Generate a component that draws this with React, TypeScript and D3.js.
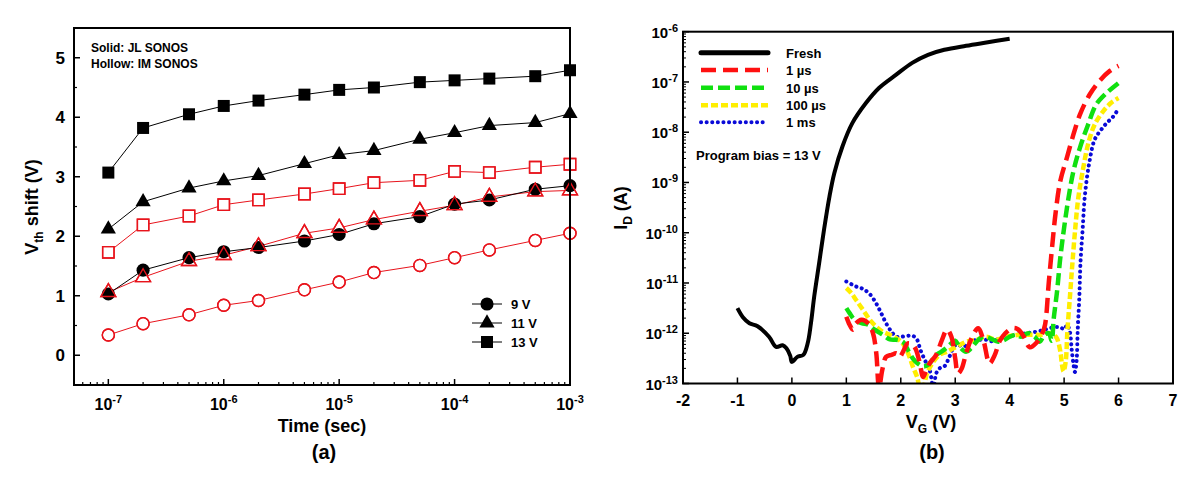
import React from 'react';
import * as d3 from 'd3';

// ---------- Panel (a) data ----------
const times = [1e-7, 2e-7, 5e-7, 1e-6, 2e-6, 5e-6, 1e-5, 2e-5, 5e-5, 1e-4, 2e-4, 5e-4, 1e-3];
const jl9V = [1.03, 1.43, 1.64, 1.74, 1.81, 1.92, 2.03, 2.21, 2.33, 2.54, 2.61, 2.79, 2.85];
const jl11V = [2.12, 2.58, 2.81, 2.93, 3.02, 3.22, 3.37, 3.44, 3.63, 3.74, 3.86, 3.91, 4.06];
const jl13V = [3.07, 3.82, 4.05, 4.19, 4.28, 4.38, 4.46, 4.5, 4.59, 4.62, 4.65, 4.69, 4.79];
const im9V = [0.34, 0.53, 0.68, 0.84, 0.92, 1.1, 1.23, 1.39, 1.51, 1.64, 1.77, 1.93, 2.05];
const im11V = [1.06, 1.31, 1.58, 1.68, 1.83, 2.05, 2.14, 2.28, 2.42, 2.52, 2.66, 2.75, 2.77];
const im13V = [1.73, 2.19, 2.34, 2.53, 2.61, 2.71, 2.8, 2.9, 2.94, 3.09, 3.07, 3.16, 3.21];
const yTicksA = [0, 1, 2, 3, 4, 5];
const xDecadesA = [-7, -6, -5, -4, -3];
const legendA = ['9 V', '11 V', '13 V'];

// ---------- Panel (b) data: [VG (V), log10 ID (A)] ----------
const fresh: [number, number][] = [
  [-1.0, -11.5], [-0.9, -11.68], [-0.78, -11.8], [-0.63, -11.86], [-0.42, -12.07], [-0.29, -12.27],
  [-0.17, -12.24], [-0.1, -12.3], [-0.03, -12.45], [0.0, -12.57], [0.1, -12.47], [0.21, -12.43],
  [0.29, -12.2], [0.35, -11.8], [0.41, -11.27], [0.5, -10.61], [0.59, -9.94], [0.69, -9.28],
  [0.78, -8.81], [0.93, -8.28], [1.11, -7.82], [1.36, -7.42], [1.6, -7.12], [1.91, -6.86],
  [2.21, -6.62], [2.5, -6.46], [2.8, -6.36], [3.2, -6.28], [3.6, -6.21], [4.0, -6.14],
];
const pulse1us: [number, number][] = [
  [1.0, -11.67], [1.06, -11.83], [1.12, -11.93], [1.18, -11.8], [1.28, -11.73], [1.4, -11.8],
  [1.49, -12.0], [1.55, -12.4], [1.6, -13.1], [1.66, -12.73], [1.73, -12.47], [1.83, -12.43],
  [1.92, -12.4], [1.98, -12.47], [2.04, -12.37], [2.13, -12.2], [2.22, -12.23], [2.28, -12.33],
  [2.35, -12.6], [2.41, -12.87], [2.47, -12.73], [2.53, -12.6], [2.65, -12.43], [2.75, -12.15],
  [2.85, -11.93], [2.93, -12.07], [3.0, -12.5], [3.05, -12.8], [3.12, -12.7], [3.2, -12.4],
  [3.3, -12.1], [3.42, -11.9], [3.52, -12.15], [3.63, -12.6], [3.72, -12.45], [3.82, -12.15],
  [3.92, -12.0], [4.05, -11.9], [4.15, -11.92], [4.25, -12.05], [4.37, -12.28], [4.5, -12.18],
  [4.6, -12.0], [4.65, -11.83], [4.72, -10.97], [4.78, -10.28], [4.84, -9.64], [4.93, -8.97],
  [5.05, -8.51], [5.17, -8.05], [5.29, -7.65], [5.47, -7.25], [5.65, -6.98], [5.84, -6.78], [6.0, -6.68],
];
const pulse10us: [number, number][] = [
  [1.0, -11.5], [1.06, -11.6], [1.15, -11.73], [1.28, -11.8], [1.4, -11.83], [1.52, -11.93],
  [1.67, -12.03], [1.8, -12.12], [1.92, -12.13], [2.04, -12.17], [2.13, -12.33], [2.22, -12.5],
  [2.31, -12.6], [2.41, -12.66], [2.5, -12.63], [2.56, -12.56], [2.65, -12.43], [2.74, -12.37],
  [2.83, -12.3], [2.93, -12.2], [3.0, -12.15], [3.08, -12.27], [3.2, -12.37], [3.29, -12.3],
  [3.39, -12.17], [3.51, -12.07], [3.63, -12.1], [3.79, -12.17], [3.91, -12.13], [4.0, -12.07],
  [4.12, -12.03], [4.21, -12.07], [4.34, -12.0], [4.46, -12.07], [4.55, -12.17], [4.64, -12.03],
  [4.72, -12.0], [4.77, -12.15], [4.81, -11.7], [4.87, -11.17], [4.93, -10.5], [5.0, -9.9],
  [5.08, -9.31], [5.17, -8.78], [5.29, -8.31], [5.44, -7.85], [5.59, -7.45], [5.78, -7.22], [6.0, -7.02],
];
const pulse100us: [number, number][] = [
  [1.0, -11.1], [1.09, -11.2], [1.18, -11.34], [1.31, -11.54], [1.43, -11.73], [1.55, -11.87],
  [1.67, -11.97], [1.8, -12.03], [1.92, -12.1], [2.01, -12.17], [2.09, -12.3], [2.16, -12.47],
  [2.22, -12.66], [2.3, -12.87], [2.36, -13.1], [2.42, -13.05], [2.48, -12.8], [2.56, -12.63],
  [2.71, -12.43], [2.84, -12.37], [3.02, -12.27], [3.2, -12.17], [3.39, -12.13], [3.57, -12.07],
  [3.75, -12.13], [3.94, -12.07], [4.18, -12.03], [4.43, -12.03], [4.61, -12.03], [4.73, -12.0],
  [4.85, -12.07], [4.93, -12.36], [4.96, -12.62], [4.99, -12.76], [5.03, -12.56], [5.06, -11.96],
  [5.11, -11.23], [5.15, -10.64], [5.2, -9.97], [5.26, -9.31], [5.34, -8.78], [5.44, -8.24],
  [5.56, -7.85], [5.72, -7.58], [5.87, -7.41], [6.0, -7.32],
];
const pulse1ms: [number, number][] = [
  [1.0, -10.97], [1.18, -11.07], [1.31, -11.12], [1.43, -11.22], [1.55, -11.41], [1.64, -11.6],
  [1.73, -11.8], [1.83, -11.97], [1.92, -12.07], [2.01, -12.07], [2.13, -12.05], [2.22, -12.05],
  [2.3, -12.13], [2.36, -12.33], [2.44, -12.53], [2.53, -12.73], [2.6, -13.1], [2.65, -12.8],
  [2.71, -12.7], [2.8, -12.66], [2.9, -12.45], [2.97, -12.28], [3.02, -12.23], [3.17, -12.26],
  [3.29, -12.16], [3.45, -12.13], [3.57, -12.13], [3.69, -12.16], [3.82, -12.1], [3.97, -12.07],
  [4.12, -12.03], [4.31, -12.0], [4.49, -11.97], [4.67, -11.92], [4.8, -11.88], [4.92, -11.88],
  [5.01, -11.92], [5.05, -11.83], [5.1, -11.94], [5.14, -12.33], [5.17, -12.6], [5.2, -12.77],
  [5.23, -12.53], [5.25, -11.94], [5.28, -11.27], [5.3, -10.61], [5.34, -9.94], [5.38, -9.28],
  [5.46, -8.62], [5.56, -8.15], [5.68, -7.95], [5.78, -7.82], [5.9, -7.69], [5.99, -7.55],
];
const xTicksB = [-2, -1, 0, 1, 2, 3, 4, 5, 6, 7];
const yDecadesB = [-13, -12, -11, -10, -9, -8, -7, -6];
const legendB = ['Fresh', '1 \u00b5s', '10 \u00b5s', '100 \u00b5s', '1 ms'];

const FONT = "'Liberation Sans', Arial, Helvetica, sans-serif";

function PanelA() {
  const x = d3.scaleLog().domain([5.04e-8, 1e-3]).range([74, 570]);
  const y = d3.scaleLinear().domain([-0.5, 5.5]).range([385, 28]);
  const [x0, x1] = x.range();
  const [yb, yt] = y.range();
  const line = d3.line<number>().x((_, i) => x(times[i])).y((d) => y(d));
  const minorX: number[] = [];
  for (let d = -8; d <= -4; d++) for (let k = 2; k <= 9; k++) {
    const v = k * Math.pow(10, d);
    if (v > x.domain()[0] && v < x.domain()[1]) minorX.push(v);
  }
  const minorY = d3.range(-0.5, 5.51, 0.5).filter((v) => Math.abs(v - Math.round(v)) > 0.1);
  const sq = d3.symbol(d3.symbolSquare, 144)()!;
  const tri = d3.symbol(d3.symbolTriangle, 100)()!;
  const cir = d3.symbol(d3.symbolCircle, 135)()!;
  const hsq = d3.symbol(d3.symbolSquare, 130)()!;
  const htri = d3.symbol(d3.symbolTriangle, 95)()!;
  const hcir = d3.symbol(d3.symbolCircle, 115)()!;
  const red = '#e8141c';
  const solid = [
    { v: jl9V, p: cir },
    { v: jl11V, p: tri },
    { v: jl13V, p: sq },
  ];
  const hollow = [
    { v: im9V, p: hcir },
    { v: im11V, p: htri },
    { v: im13V, p: hsq },
  ];
  const legendY = [304, 323, 342];
  const legendSym = [cir, tri, sq];
  return (
    <g fontFamily={FONT} fontWeight="bold">
      {hollow.map((s, i) => (
        <path key={'hl' + i} d={line(s.v)!} fill="none" stroke={red} strokeWidth={1} />
      ))}
      {solid.map((s, i) => (
        <path key={'sl' + i} d={line(s.v)!} fill="none" stroke="#000" strokeWidth={1} />
      ))}
      {hollow.map((s, i) =>
        s.v.map((v, j) => (
          <path key={'hw' + i + '-' + j} d={s.p} transform={`translate(${x(times[j])},${y(v)})`} fill="#fff" stroke={red} strokeWidth={1.4} />
        ))
      )}
      {solid.map((s, i) =>
        s.v.map((v, j) => (
          <path key={'sm' + i + '-' + j} d={s.p} transform={`translate(${x(times[j])},${y(v)})`} fill="#000" />
        ))
      )}
      {hollow.map((s, i) =>
        s.v.map((v, j) => (
          <path key={'ho' + i + '-' + j} d={s.p} transform={`translate(${x(times[j])},${y(v)})`} fill="none" stroke={red} strokeWidth={1.4} />
        ))
      )}
      <rect x={x0} y={yt} width={x1 - x0} height={yb - yt} fill="none" stroke="#000" strokeWidth={2} />
      {yTicksA.map((t) => (
        <g key={'yt' + t}>
          <line x1={x0} x2={x0 + 6} y1={y(t)} y2={y(t)} stroke="#000" strokeWidth={1.5} />
          <text x={x0 - 9} y={y(t) + 6} textAnchor="end" fontSize={17}>{t}</text>
        </g>
      ))}
      {minorY.map((t) => (
        <line key={'ym' + t} x1={x0} x2={x0 + 3} y1={y(t)} y2={y(t)} stroke="#000" strokeWidth={1.2} />
      ))}
      {xDecadesA.map((d) => (
        <g key={'xt' + d}>
          <line x1={x(Math.pow(10, d))} x2={x(Math.pow(10, d))} y1={yb} y2={yb - 6} stroke="#000" strokeWidth={1.5} />
          <text x={x(Math.pow(10, d))} y={410} textAnchor="middle" fontSize={16}>
            10<tspan dy={-7} fontSize={11}>{d}</tspan>
          </text>
        </g>
      ))}
      {minorX.map((v, i) => (
        <line key={'xm' + i} x1={x(v)} x2={x(v)} y1={yb} y2={yb - 3} stroke="#000" strokeWidth={1.2} />
      ))}
      <text x={322} y={432} textAnchor="middle" fontSize={18}>Time (sec)</text>
      <text x={324} y={459} textAnchor="middle" fontSize={20}>(a)</text>
      <text transform="translate(38,207) rotate(-90)" textAnchor="middle" fontSize={18}>
        V<tspan dy={5} fontSize={12}>th</tspan><tspan dy={-5}> shift (V)</tspan>
      </text>
      <text x={91} y={52} fontSize={12}>Solid: JL SONOS</text>
      <text x={91} y={68} fontSize={12}>Hollow: IM SONOS</text>
      {legendA.map((t, i) => (
        <g key={'lg' + i}>
          <line x1={472} x2={502} y1={legendY[i]} y2={legendY[i]} stroke="#000" strokeWidth={1} />
          <path d={legendSym[i]} transform={`translate(487,${legendY[i]})`} fill="#000" />
          <text x={511} y={legendY[i] + 5} fontSize={13}>{t}</text>
        </g>
      ))}
    </g>
  );
}

function PanelB() {
  const x = d3.scaleLinear().domain([-2, 7]).range([683, 1173]);
  const y = d3.scaleLog().domain([1e-13, 1e-6]).range([383.5, 31.7]);
  const [x0, x1] = x.range();
  const [yb, yt] = y.range();
  const line = d3
    .line<[number, number]>()
    .x((d) => x(d[0]))
    .y((d) => y(Math.pow(10, d[1])))
    .curve(d3.curveCatmullRom.alpha(0.5));
  const minorY: number[] = [];
  for (let d = -13; d < -6; d++) for (let k = 2; k <= 9; k++) minorY.push(k * Math.pow(10, d));
  const series = [
    { data: fresh, color: '#000', w: 4, dash: '', cap: 'butt' },
    { data: pulse1us, color: '#ff1010', w: 4.5, dash: '15 7', cap: 'butt' },
    { data: pulse10us, color: '#10e010', w: 4.5, dash: '12 5', cap: 'butt' },
    { data: pulse100us, color: '#ffee00', w: 4.5, dash: '7 3', cap: 'butt' },
    { data: pulse1ms, color: '#0a0ad8', w: 4, dash: '0.1 5.5', cap: 'round' },
  ];
  const legendLineY = [52.7, 70, 87.7, 105.3, 122.3];
  return (
    <g fontFamily={FONT} fontWeight="bold">
      <defs>
        <clipPath id="clipB">
          <rect x={x0} y={yt} width={x1 - x0} height={yb - yt} />
        </clipPath>
      </defs>
      <g clipPath="url(#clipB)">
        {series.slice().reverse().map((s, i) => (
          <path key={'s' + i} d={line(s.data)!} fill="none" stroke={s.color} strokeWidth={s.w}
            strokeDasharray={s.dash || undefined} strokeLinecap={s.cap as any} strokeLinejoin="round" />
        ))}
      </g>
      <rect x={x0} y={yt} width={x1 - x0} height={yb - yt} fill="none" stroke="#000" strokeWidth={2} />
      {xTicksB.map((t) => (
        <g key={'xt' + t}>
          <line x1={x(t)} x2={x(t)} y1={yb} y2={yb - 6} stroke="#000" strokeWidth={1.5} />
          <text x={x(t)} y={406} textAnchor="middle" fontSize={16}>{t}</text>
        </g>
      ))}
      {yDecadesB.map((d) => (
        <g key={'yt' + d}>
          <line x1={x0} x2={x0 + 6} y1={y(Math.pow(10, d))} y2={y(Math.pow(10, d))} stroke="#000" strokeWidth={1.5} />
          <text x={678} y={y(Math.pow(10, d)) + 6} textAnchor="end" fontSize={15}>
            10<tspan dy={-6} fontSize={11}>{d}</tspan>
          </text>
        </g>
      ))}
      {minorY.map((v, i) => (
        <line key={'ym' + i} x1={x0} x2={x0 + 3} y1={y(v)} y2={y(v)} stroke="#000" strokeWidth={1} />
      ))}
      <text x={931} y={428} textAnchor="middle" fontSize={18}>
        V<tspan dy={5} fontSize={12}>G</tspan><tspan dy={-5}> (V)</tspan>
      </text>
      <text x={932} y={459} textAnchor="middle" fontSize={20}>(b)</text>
      <text transform="translate(627,208) rotate(-90)" textAnchor="middle" fontSize={18}>
        I<tspan dy={5} fontSize={12}>D</tspan><tspan dy={-5}> (A)</tspan>
      </text>
      {legendB.map((t, i) => (
        <g key={'lg' + i}>
          <line x1={701} x2={768} y1={legendLineY[i]} y2={legendLineY[i]} stroke={series[i].color}
            strokeWidth={i === 0 ? 5 : series[i].w} strokeDasharray={series[i].dash || undefined}
            strokeLinecap={i === 0 ? 'round' : (series[i].cap as any)} />
          <text x={786} y={legendLineY[i] + 5} fontSize={13}>{t}</text>
        </g>
      ))}
      <text x={696} y={160} fontSize={13}>Program bias = 13 V</text>
    </g>
  );
}

export default function App() {
  return (
    <svg width={1200} height={480} viewBox="0 0 1200 480"
      style={{ position: 'absolute', left: 0, top: 0, display: 'block', background: '#fff' }}>
      <rect x={0} y={0} width={1200} height={480} fill="#fff" />
      <PanelA />
      <PanelB />
    </svg>
  );
}
